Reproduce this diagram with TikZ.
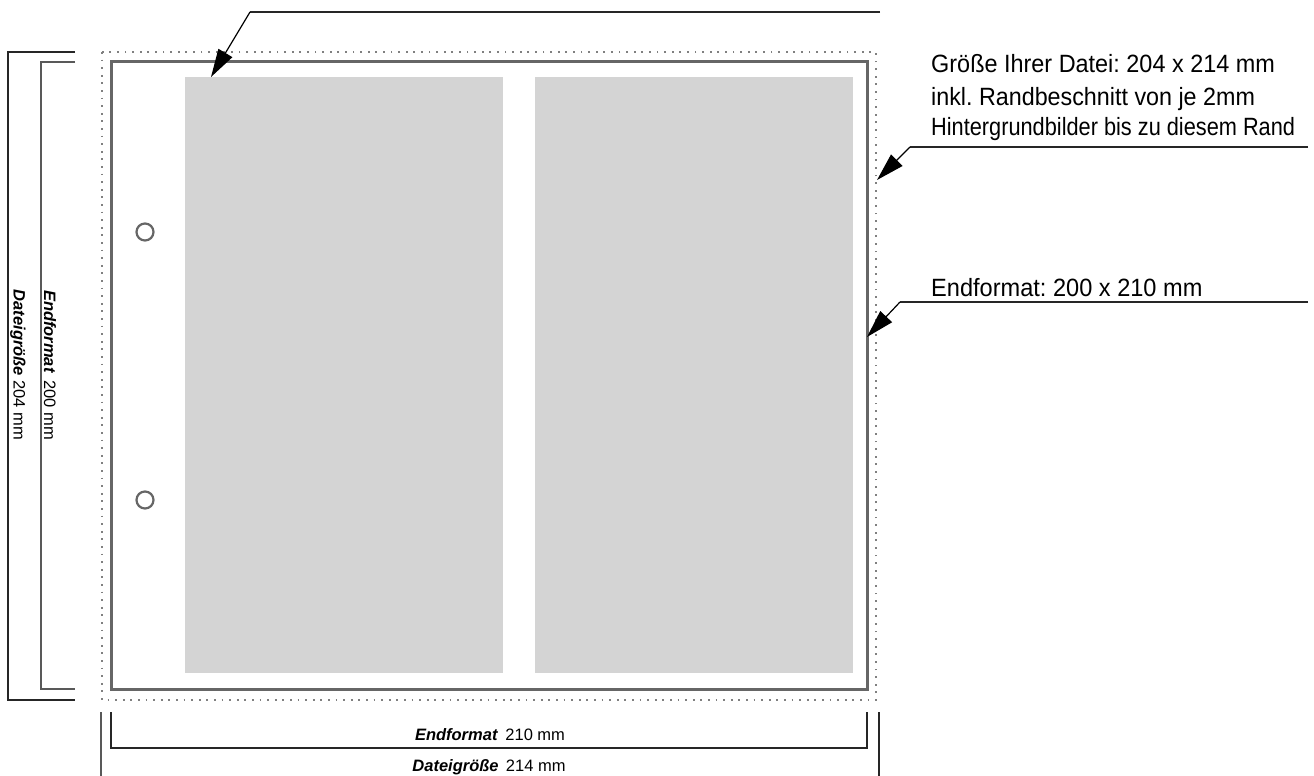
\documentclass[tikz,border=0pt]{standalone}
\usepackage{fontspec}
\setmainfont{Liberation Sans}
\usetikzlibrary{arrows.meta}
\frenchspacing
\begin{document}
\begin{tikzpicture}[x=1pt,y=-1pt,
  bracket/.style={line width=1.3pt,black!85},
  gbracket/.style={line width=1.6pt,black!65},
  callout/.style={line width=1.2pt,black!85},
  arr/.style={line width=1.2pt,-{Triangle[length=28pt,width=16pt]}},
  dotline/.style={line width=1.8pt,black!50,dash pattern=on 1.8pt off 5.8pt},
  panel/.style={fill=black!17,draw=none},
  hole/.style={circle,draw=black!60,line width=2.2pt,minimum size=17pt,inner sep=0pt},
  bigtxt/.style={font=\fontsize{25}{28}\selectfont,anchor=base west,inner sep=0pt},
  smtxt/.style={font=\fontsize{16.5}{19}\selectfont,inner sep=0pt}]
\useasboundingbox (0,0) rectangle (1314,776);
% bleed (dotted)
\draw[dotline] (102,52) rectangle (876,700);
% final page
\draw[line width=3pt,black!60] (111,62) rectangle (867,689);
% panels
\fill[panel] (185,77) rectangle (503,673);
\fill[panel] (535,77) rectangle (853,673);
% holes
\node[hole] (h1) at (145,232) {};
\node[hole] (h2) at (145,500) {};
% left brackets
\draw[bracket] (75,52) -- (8,52) -- (8,700) -- (75,700);
\draw[gbracket] (75,62) -- (41,62) -- (41,689) -- (75,689);
\node[smtxt,rotate=-90] (lend) at (50,365) {\textbf{\textit{Endformat}}\, 200 mm};
\node[smtxt,rotate=-90] (ldat) at (18,365) {\textbf{\textit{Dateigröße}} 204 mm};
% bottom brackets
\draw[bracket] (111,712) -- (111,748) -- (867,748) -- (867,712);
\draw[gbracket] (101,712) -- (101,776);
\draw[bracket] (879,712) -- (879,776);
\node[smtxt] (bend) at (490,735) {\textbf{\textit{Endformat}}\, 210 mm};
\node[smtxt] (bdat) at (489,767) {\textbf{\textit{Dateigröße}}\, 214 mm};
% callouts
\coordinate (t0) at (880,12);
\coordinate (t1) at (250,12);
\coordinate (t2) at (211,77);
\draw[callout] (t0) -- (t1);
\draw[arr] (t1) -- (t2);
\node[bigtxt] (txt1) at (931,73) {\scalebox{0.937}[1]{Größe Ihrer Datei: 204 x 214 mm}};
\node[bigtxt] (txt2) at (931,105) {\scalebox{0.932}[1]{inkl. Randbeschnitt von je 2mm}};
\node[bigtxt] (txt3) at (931,135) {\scalebox{0.87}[1]{Hintergrundbilder bis zu diesem Rand}};
\coordinate (r0) at (1308,147);
\coordinate (r1) at (910,147);
\coordinate (r2) at (877,180);
\draw[callout] (r0) -- (r1);
\draw[arr] (r1) -- (r2);
\node[bigtxt] (txt4) at (931,296) {\scalebox{0.943}[1]{Endformat: 200 x 210 mm}};
\coordinate (s0) at (1308,302);
\coordinate (s1) at (900,302);
\coordinate (s2) at (867,337);
\draw[callout] (s0) -- (s1);
\draw[arr] (s1) -- (s2);
\end{tikzpicture}
\end{document}
